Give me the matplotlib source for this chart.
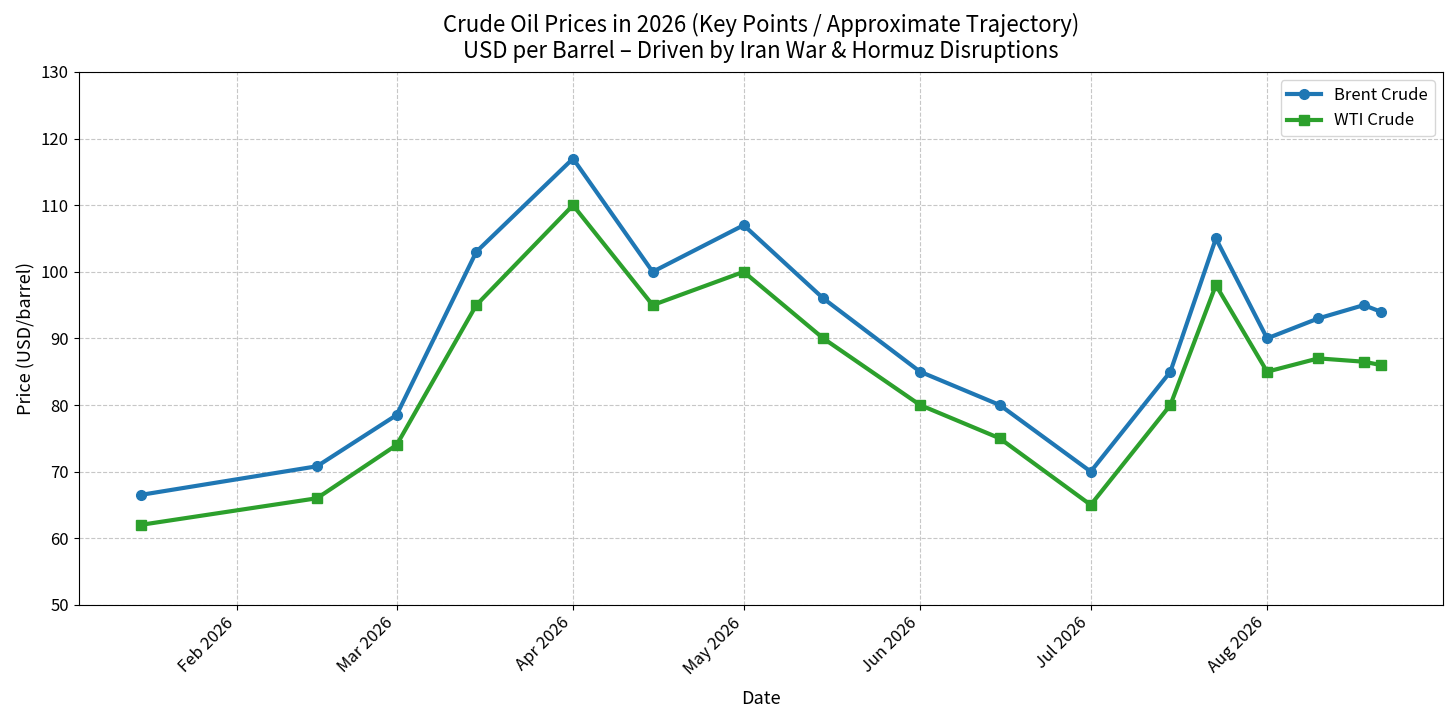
import numpy as np
import pandas as pd
import matplotlib
matplotlib.use('Agg')
import matplotlib.pyplot as plt
import matplotlib.dates as mdates

plt.rcParams['font.family'] = ['Noto Sans CJK JP', 'DejaVu Sans']

# データ
dates = pd.to_datetime([
    '2026-01-15', '2026-02-15', '2026-03-01', '2026-03-15', '2026-04-01',
    '2026-04-15', '2026-05-01', '2026-05-15', '2026-06-01', '2026-06-15',
    '2026-07-01', '2026-07-15', '2026-07-23', '2026-08-01', '2026-08-10',
    '2026-08-18', '2026-08-21',
])
brent = [66.5, 70.8, 78.5, 103, 117, 100, 107, 96, 85, 80, 70, 85, 105, 90, 93, 95, 94]
wti = [62, 66, 74, 95, 110, 95, 100, 90, 80, 75, 65, 80, 98, 85, 87, 86.5, 86]

fig, ax = plt.subplots(figsize=(14.56, 7.2), dpi=100)

ax.plot(dates, brent, marker='o', color='#1f77b4', linewidth=3, markersize=7, label='Brent Crude')
ax.plot(dates, wti, marker='s', color='#2ca02c', linewidth=3, markersize=7, label='WTI Crude')

ax.set_title('Crude Oil Prices in 2026 (Key Points / Approximate Trajectory)\nUSD per Barrel – Driven by Iran War & Hormuz Disruptions',
             fontsize=16, pad=10)
ax.set_xlabel('Date', fontsize=13, labelpad=9)
ax.set_ylabel('Price (USD/barrel)', fontsize=13)
ax.set_ylim(50, 130)

ax.xaxis.set_major_locator(mdates.MonthLocator())
ax.xaxis.set_major_formatter(mdates.DateFormatter('%b %Y'))
plt.setp(ax.get_xticklabels(), rotation=45, ha='right')
ax.tick_params(labelsize=12)

ax.grid(True, linestyle='--', alpha=0.7)
ax.legend(fontsize=12, loc='upper right')

plt.subplots_adjust(left=0.054, right=0.991, top=0.9, bottom=0.16)
plt.savefig('out.png')
